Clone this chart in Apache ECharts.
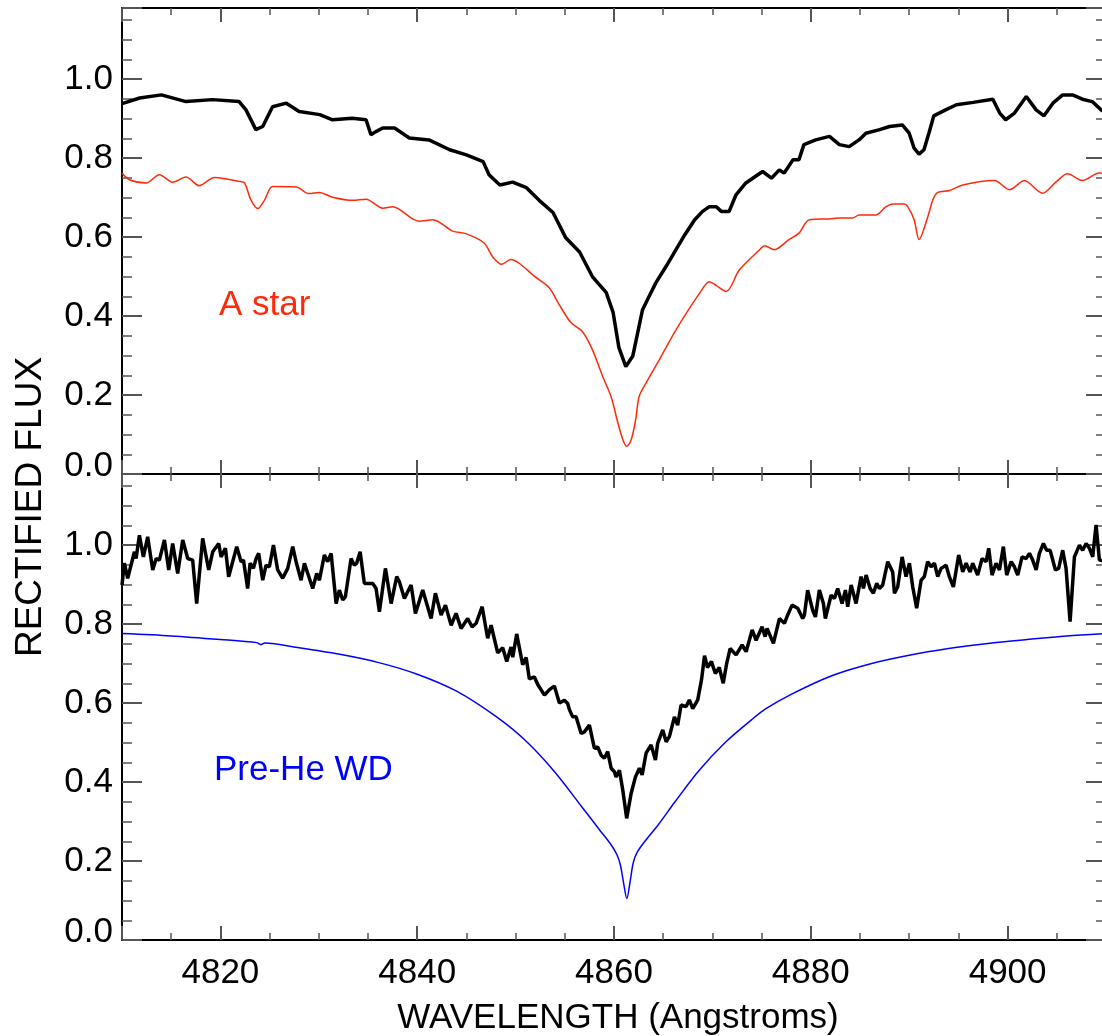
<!DOCTYPE html>
<html>
<head>
<meta charset="utf-8">
<script src="https://cdn.jsdelivr.net/npm/echarts@6/dist/echarts.min.js"></script>
<style>
  html, body { margin: 0; padding: 0; background: #fff; }
  #chart { width: 1102px; height: 1036px; }
</style>
</head>
<body>
<div id="chart"></div>
<script>
// observed spectrum, upper panel (wavelength, flux)
const obsTop = [
  [4810, 0.938], [4811.8, 0.952], [4814.0, 0.960], [4816.5, 0.943], [4819.2, 0.948],
  [4821.9, 0.943], [4822.6, 0.922], [4823.6, 0.872], [4824.3, 0.880], [4825.3, 0.930],
  [4826.7, 0.939], [4828.0, 0.918], [4830.1, 0.910], [4831.4, 0.897], [4833.4, 0.901],
  [4834.8, 0.897], [4835.3, 0.859], [4835.8, 0.867], [4836.5, 0.876], [4837.7, 0.876],
  [4839.2, 0.851], [4841.2, 0.846], [4843.3, 0.821], [4845.0, 0.808], [4846.7, 0.791],
  [4847.3, 0.758], [4848.4, 0.732], [4849.7, 0.739], [4851.1, 0.725], [4852.4, 0.693],
  [4853.8, 0.662], [4855.1, 0.598], [4856.5, 0.562], [4857.8, 0.500], [4859.2, 0.460],
  [4859.9, 0.410], [4860.5, 0.320], [4861.2, 0.272], [4861.9, 0.298], [4862.4, 0.357],
  [4862.9, 0.416], [4863.4, 0.441], [4864.25, 0.484], [4865.3, 0.526], [4866.3, 0.568],
  [4867.2, 0.606], [4868.2, 0.644], [4869.0, 0.665], [4869.7, 0.677], [4870.4, 0.677],
  [4870.9, 0.665], [4871.7, 0.665], [4872.4, 0.707], [4873.4, 0.737], [4875.1, 0.766],
  [4876.0, 0.749], [4876.8, 0.770], [4877.3, 0.762], [4878.2, 0.796], [4878.8, 0.796],
  [4879.3, 0.834], [4880.5, 0.846], [4881.9, 0.855], [4882.9, 0.834], [4883.9, 0.829],
  [4884.9, 0.846], [4885.6, 0.863], [4887.0, 0.872], [4888.0, 0.880], [4889.3, 0.884],
  [4890.0, 0.863], [4890.5, 0.825], [4891.0, 0.810], [4891.5, 0.821], [4892.0, 0.863],
  [4892.5, 0.907], [4893.7, 0.922], [4894.8, 0.935], [4896.5, 0.941], [4898.5, 0.949],
  [4899.2, 0.914], [4899.8, 0.897], [4900.7, 0.914], [4901.9, 0.956], [4902.9, 0.922],
  [4903.7, 0.907], [4904.6, 0.939], [4905.6, 0.960], [4906.6, 0.960], [4907.6, 0.949],
  [4908.6, 0.943], [4909.5, 0.922], [4910, 0.915]
];

// A star model (red)
const aStar = [
  [4810, 0.762], [4810.75, 0.745], [4812.45, 0.737], [4813.8, 0.758], [4815.15, 0.739],
  [4816.5, 0.752], [4817.85, 0.730], [4819.4, 0.751], [4821.9, 0.741], [4822.45, 0.737],
  [4823.1, 0.694], [4823.8, 0.672], [4824.5, 0.694], [4825.3, 0.728], [4827.7, 0.727],
  [4829.0, 0.710], [4830.05, 0.713], [4831.4, 0.701], [4833.45, 0.693], [4834.8, 0.696],
  [4836.5, 0.673], [4837.5, 0.677], [4839.55, 0.646], [4840.2, 0.640], [4841.6, 0.644],
  [4843.6, 0.615], [4845.0, 0.608], [4846.8, 0.585], [4847.7, 0.549], [4848.6, 0.531],
  [4849.5, 0.543], [4850.4, 0.533], [4851.9, 0.501], [4853.4, 0.472], [4854.4, 0.430],
  [4855.6, 0.384], [4856.8, 0.360], [4857.8, 0.315], [4858.85, 0.247], [4859.7, 0.196],
  [4860.4, 0.129], [4860.9, 0.087], [4861.3, 0.070], [4861.75, 0.087], [4862.2, 0.137],
  [4862.55, 0.196], [4863.25, 0.230], [4864.6, 0.289], [4866.3, 0.365], [4868.7, 0.458],
  [4869.7, 0.487], [4870.4, 0.477], [4871.4, 0.462], [4872.75, 0.517], [4874.8, 0.568],
  [4875.3, 0.578], [4876.3, 0.568], [4877.8, 0.594], [4878.8, 0.610], [4879.85, 0.644],
  [4881.9, 0.646], [4882.9, 0.648], [4884.25, 0.648], [4884.9, 0.656], [4886.6, 0.656],
  [4887.65, 0.677], [4888.3, 0.684], [4889.5, 0.684], [4889.85, 0.677], [4890.5, 0.644],
  [4891.0, 0.594], [4891.9, 0.652], [4892.4, 0.694], [4892.9, 0.713], [4894.1, 0.718],
  [4895.45, 0.732], [4898.65, 0.743], [4900.2, 0.720], [4901.7, 0.743], [4903.55, 0.711],
  [4904.9, 0.739], [4906.1, 0.760], [4907.6, 0.743], [4909.3, 0.762], [4910, 0.760]
];

// observed spectrum, lower panel
const obsBottom = [
  [4810.0, 0.899], [4810.24, 0.954], [4810.58, 0.916], [4811.26, 0.983], [4811.43, 0.966],
  [4811.77, 1.025], [4812.17, 0.970], [4812.61, 1.021], [4813.12, 0.937], [4813.47, 0.966],
  [4813.80, 0.962], [4814.31, 1.013], [4814.75, 0.937], [4815.15, 1.004], [4815.66, 0.928],
  [4816.17, 1.013], [4816.68, 0.966], [4817.18, 0.962], [4817.59, 0.852], [4818.20, 1.017],
  [4818.81, 0.937], [4819.22, 0.983], [4819.83, 1.004], [4820.07, 0.970], [4820.51, 0.992],
  [4820.84, 0.920], [4821.66, 0.996], [4822.10, 0.958], [4822.34, 0.962], [4822.77, 0.890],
  [4823.02, 0.954], [4823.35, 0.941], [4823.63, 0.966], [4823.89, 0.979], [4824.30, 0.911],
  [4824.64, 0.949], [4824.98, 0.945], [4825.39, 1.000], [4825.82, 0.937], [4826.33, 0.916],
  [4826.84, 0.941], [4827.35, 0.996], [4827.69, 0.958], [4828.20, 0.911], [4828.54, 0.954],
  [4829.38, 0.890], [4829.79, 0.928], [4830.06, 0.911], [4830.57, 0.975], [4830.90, 0.958],
  [4831.25, 0.979], [4831.76, 0.852], [4832.09, 0.886], [4832.43, 0.861], [4832.70, 0.869],
  [4833.28, 0.966], [4833.62, 0.949], [4833.85, 0.954], [4834.20, 0.983], [4834.63, 0.903],
  [4835.48, 0.903], [4835.82, 0.890], [4836.16, 0.831], [4836.77, 0.941], [4837.35, 0.852],
  [4837.92, 0.920], [4838.19, 0.907], [4838.70, 0.865], [4839.38, 0.899], [4839.82, 0.827],
  [4840.56, 0.886], [4841.41, 0.814], [4841.85, 0.878], [4842.43, 0.823], [4842.87, 0.848],
  [4843.45, 0.797], [4843.95, 0.827], [4844.46, 0.789], [4845.13, 0.814], [4845.58, 0.793],
  [4845.99, 0.802], [4846.60, 0.844], [4847.16, 0.764], [4847.51, 0.797], [4848.18, 0.727],
  [4848.69, 0.740], [4849.10, 0.705], [4849.54, 0.742], [4849.71, 0.716], [4850.11, 0.775],
  [4850.72, 0.697], [4851.07, 0.715], [4851.40, 0.661], [4851.91, 0.666], [4852.25, 0.647],
  [4852.93, 0.620], [4853.44, 0.634], [4853.94, 0.643], [4854.45, 0.600], [4854.96, 0.607],
  [4855.29, 0.599], [4855.46, 0.584], [4855.80, 0.565], [4856.15, 0.565], [4856.66, 0.523],
  [4856.99, 0.527], [4857.50, 0.544], [4858.01, 0.485], [4858.34, 0.489], [4858.69, 0.468],
  [4859.02, 0.460], [4859.36, 0.477], [4859.71, 0.435], [4860.04, 0.426], [4860.21, 0.413],
  [4860.55, 0.430], [4860.89, 0.380], [4861.29, 0.308], [4861.74, 0.371], [4862.18, 0.413],
  [4862.58, 0.435], [4862.86, 0.418], [4863.26, 0.473], [4863.77, 0.494], [4864.21, 0.456],
  [4864.44, 0.498], [4864.95, 0.532], [4865.30, 0.502], [4865.63, 0.515], [4866.14, 0.565],
  [4866.47, 0.544], [4866.82, 0.595], [4867.33, 0.591], [4867.66, 0.608], [4868.00, 0.586],
  [4868.51, 0.608], [4868.90, 0.660], [4869.20, 0.720], [4869.50, 0.690], [4869.90, 0.705],
  [4870.30, 0.675], [4870.70, 0.690], [4871.10, 0.650], [4871.45, 0.700], [4871.80, 0.738],
  [4872.41, 0.722], [4873.02, 0.747], [4873.43, 0.730], [4874.04, 0.785], [4874.44, 0.759],
  [4875.05, 0.793], [4875.36, 0.768], [4875.56, 0.789], [4876.20, 0.751], [4876.81, 0.814],
  [4877.32, 0.802], [4877.65, 0.823], [4878.10, 0.848], [4878.67, 0.840], [4879.18, 0.814],
  [4879.35, 0.823], [4879.68, 0.886], [4880.19, 0.835], [4880.47, 0.818], [4880.87, 0.886],
  [4881.28, 0.852], [4881.48, 0.814], [4882.06, 0.873], [4882.40, 0.865], [4882.73, 0.890],
  [4883.18, 0.852], [4883.52, 0.886], [4883.75, 0.844], [4884.10, 0.899], [4884.60, 0.852],
  [4885.11, 0.920], [4885.35, 0.890], [4885.62, 0.924], [4886.03, 0.890], [4886.36, 0.878],
  [4886.70, 0.903], [4886.97, 0.890], [4887.31, 0.899], [4887.82, 0.958], [4888.32, 0.932],
  [4888.50, 0.878], [4888.83, 0.894], [4889.28, 0.970], [4889.68, 0.920], [4890.02, 0.954],
  [4890.36, 0.894], [4890.76, 0.840], [4891.21, 0.911], [4891.54, 0.920], [4891.88, 0.958],
  [4892.22, 0.945], [4892.56, 0.954], [4892.90, 0.920], [4893.24, 0.941], [4893.75, 0.949],
  [4894.08, 0.920], [4894.49, 0.894], [4895.03, 0.975], [4895.44, 0.932], [4895.78, 0.954],
  [4896.19, 0.932], [4896.45, 0.954], [4896.96, 0.924], [4897.41, 0.966], [4897.82, 0.958],
  [4898.08, 0.992], [4898.42, 0.924], [4898.83, 0.954], [4899.17, 0.937], [4899.57, 0.996],
  [4899.91, 0.924], [4900.36, 0.958], [4900.69, 0.945], [4901.03, 0.924], [4901.47, 0.970],
  [4901.88, 0.966], [4902.22, 0.979], [4902.55, 0.962], [4902.90, 0.937], [4903.23, 0.979],
  [4903.64, 1.004], [4903.97, 0.987], [4904.32, 0.987], [4904.86, 0.937], [4905.19, 0.941],
  [4905.60, 0.987], [4905.94, 0.941], [4906.35, 0.806], [4906.79, 0.970], [4907.30, 1.000],
  [4907.63, 0.987], [4907.98, 1.004], [4908.31, 0.992], [4908.65, 0.970], [4908.99, 1.051],
  [4909.33, 0.962], [4910.0, 0.960]
];

// pre-He white dwarf model (blue)
const preHeWD = [
  [4810, 0.776], [4815, 0.770], [4820, 0.761], [4823.7, 0.753], [4824.1, 0.748],
  [4824.5, 0.752], [4828, 0.740], [4832, 0.724], [4836, 0.703], [4840, 0.673],
  [4844, 0.630], [4848, 0.566], [4851, 0.505], [4854, 0.425], [4856.8, 0.335],
  [4858.5, 0.280], [4859.6, 0.245], [4860.3, 0.216], [4860.65, 0.190], [4860.95, 0.148],
  [4861.3, 0.105], [4861.65, 0.150], [4861.95, 0.195], [4862.35, 0.222], [4863.2, 0.252],
  [4864.5, 0.292], [4866.2, 0.350], [4868.6, 0.428], [4871.3, 0.500], [4874, 0.558],
  [4875.4, 0.585], [4878, 0.622], [4882, 0.668], [4886, 0.699], [4890, 0.721],
  [4894, 0.738], [4898, 0.751], [4902, 0.761], [4906, 0.770], [4910, 0.776]
];

const FONT = '"Liberation Sans", Arial, Helvetica, sans-serif';
const RED = '#ff2a0a';
const BLUE = '#0000ff';

const chart = echarts.init(document.getElementById('chart'), null, { renderer: 'canvas' });

function xAxisDef(grid, pos, labels) {
  return {
    type: 'value',
    gridIndex: grid,
    position: pos,
    min: 4810,
    max: 4910,
    splitNumber: 5,
    axisLine: { show: true, onZero: false, lineStyle: { color: '#000', width: 2 } },
    axisTick: { show: true, inside: true, length: 14, lineStyle: { color: '#555', width: 2 } },
    minorTick: { show: true, splitNumber: 4, length: 7, lineStyle: { color: '#555', width: 1.5 } },
    splitLine: { show: false },
    axisLabel: {
      show: labels,
      showMinLabel: false,
      showMaxLabel: false,
      margin: 16,
      fontSize: 35,
      color: '#000',
      fontFamily: FONT,
      formatter: function (v) { return String(v); }
    }
  };
}

function yAxisDef(grid, pos, labels) {
  return {
    type: 'value',
    gridIndex: grid,
    position: pos,
    min: 0,
    max: 1.18,
    splitNumber: 6,
    axisLine: { show: true, onZero: false, lineStyle: { color: '#000', width: 2 } },
    axisTick: { show: true, inside: true, length: 20, lineStyle: { color: '#555', width: 2 } },
    minorTick: { show: true, splitNumber: 4, length: 10, lineStyle: { color: '#555', width: 1.5 } },
    splitLine: { show: false },
    axisLabel: {
      show: labels,
      showMaxLabel: false,
      margin: 9,
      fontSize: 35,
      color: '#000',
      fontFamily: FONT,
      formatter: function (v) {
        return v === 0 ? '{low|0.0}' : v.toFixed(1);
      },
      rich: {
        low: { fontSize: 35, fontFamily: FONT, color: '#000', padding: [0, 0, 16, 0] }
      }
    }
  };
}

const option = {
  backgroundColor: '#fff',
  animation: false,
  textStyle: { fontFamily: FONT },
  grid: [
    { left: 122, top: 8, width: 984, height: 466, outerBoundsMode: 'none', containLabel: false },
    { left: 122, top: 474, width: 984, height: 466, outerBoundsMode: 'none', containLabel: false }
  ],
  xAxis: [
    xAxisDef(0, 'bottom', false),
    xAxisDef(0, 'top', false),
    xAxisDef(1, 'bottom', true),
    xAxisDef(1, 'top', false)
  ],
  yAxis: [
    yAxisDef(0, 'left', true),
    yAxisDef(0, 'right', false),
    yAxisDef(1, 'left', true),
    yAxisDef(1, 'right', false)
  ],
  graphic: [
    {
      type: 'text', x: 31, y: 507, rotation: Math.PI / 2,
      style: { text: 'RECTIFIED FLUX', fill: '#000', font: '37px ' + FONT, align: 'center', verticalAlign: 'middle' }
    },
    {
      type: 'text', x: 618, y: 1018,
      style: { text: 'WAVELENGTH (Angstroms)', fill: '#000', font: '35px ' + FONT, align: 'center', verticalAlign: 'middle' }
    },
    {
      type: 'text', x: 219, y: 305,
      style: { text: 'A star', fill: RED, font: '35px ' + FONT, align: 'left', verticalAlign: 'middle' }
    },
    {
      type: 'text', x: 214, y: 770,
      style: { text: 'Pre-He WD', fill: BLUE, font: '35px ' + FONT, align: 'left', verticalAlign: 'middle' }
    }
  ],
  series: [
    {
      name: 'A star model',
      type: 'line',
      xAxisIndex: 0, yAxisIndex: 0,
      data: aStar,
      smooth: 0.3,
      showSymbol: false,
      lineStyle: { color: RED, width: 1.5 },
      z: 2
    },
    {
      name: 'Observed (top)',
      type: 'line',
      xAxisIndex: 0, yAxisIndex: 0,
      data: obsTop,
      showSymbol: false,
      lineStyle: { color: '#000', width: 3.5 },
      z: 3
    },
    {
      name: 'Pre-He WD model',
      type: 'line',
      xAxisIndex: 2, yAxisIndex: 2,
      data: preHeWD,
      smooth: 0.3,
      showSymbol: false,
      lineStyle: { color: BLUE, width: 1.5 },
      z: 2
    },
    {
      name: 'Observed (bottom)',
      type: 'line',
      xAxisIndex: 2, yAxisIndex: 2,
      data: obsBottom,
      showSymbol: false,
      lineStyle: { color: '#000', width: 3.5 },
      z: 3
    }
  ]
};

chart.setOption(option);
</script>
</body>
</html>
